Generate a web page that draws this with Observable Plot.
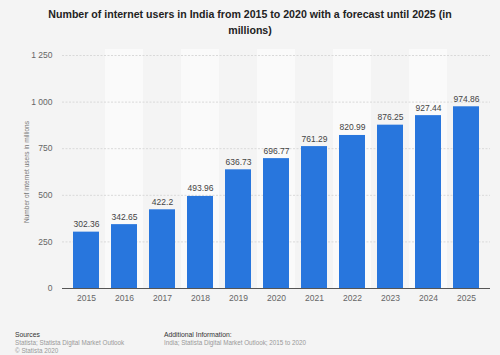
<!DOCTYPE html>
<html>
<head>
<meta charset="utf-8">
<script src="https://cdn.jsdelivr.net/npm/d3@7"></script>
<script src="https://cdn.jsdelivr.net/npm/@observablehq/plot@0.6"></script>
<style>
  html, body { margin: 0; padding: 0; background: #f4f4f4; width: 500px; height: 355px; overflow: hidden; font-family: "Liberation Sans", Arial, sans-serif; }
  #title { position: absolute; top: 6px; left: 0; width: 500px; text-align: center; font-weight: bold; font-size: 10.6px; line-height: 16px; color: #222; }
  #chart { position: absolute; top: 40px; left: 0; }
  #chart svg { color: #666; }
  #chart g[aria-label="y-axis label"] text { font-size: 6.5px; fill: #777; }
  .foot { position: absolute; top: 331px; font-size: 6.3px; line-height: 8px; color: #999; }
  .foot b { font-weight: normal; color: #333; font-size: 6.8px; }
</style>
</head>
<body>
<div id="title">Number of internet users in India from 2015 to 2020 with a forecast until 2025 (in<br>millions)</div>
<div id="chart"></div>
<div class="foot" style="left:15px"><b>Sources</b><br>Statista; Statista Digital Market Outlook<br>© Statista 2020</div>
<div class="foot" style="left:164px"><b>Additional Information:</b><br>India; Statista Digital Market Outlook; 2015 to 2020</div>
<script>
const years = ["2015","2016","2017","2018","2019","2020","2021","2022","2023","2024","2025"];
const users = [302.36, 342.65, 422.2, 493.96, 636.73, 696.77, 761.29, 820.99, 876.25, 927.44, 974.86];
const yTicks = [0, 250, 500, 750, 1000, 1250];
const yLabel = "Number of internet users in millions";

const data = years.map((y, i) => ({year: y, value: users[i]}));
const stripes = years.filter((y, i) => i % 2 === 1).map(y => ({year: y}));
const fmt = d => d3.format(",")(d).replace(/,/g, " ");

const chart = Plot.plot({
  width: 500,
  height: 280,
  marginTop: 15,
  marginBottom: 32,
  marginLeft: 62,
  marginRight: 10,
  style: {fontFamily: "'Liberation Sans', Arial, sans-serif", fontSize: "8.5px", background: "transparent"},
  x: {domain: years, padding: 0, label: null},
  y: {domain: [0, 1250], label: null},
  marks: [
    Plot.barY(stripes, {x: "year", y1: 0, y2: 1250, fill: "#fafafa", insetTop: -6}),
    Plot.ruleY(yTicks.filter(d => d > 0), {stroke: "#d9d9d9", strokeDasharray: "2,1.5"}),
    Plot.barY(data, {x: "year", y: "value", fill: "#2876dd", insetLeft: 6, insetRight: 6}),
    Plot.text(data, {x: "year", y: "value", text: d => String(d.value), lineAnchor: "bottom", dy: -5, fill: "#444", fontSize: 8.5}),
    Plot.ruleY([0], {stroke: "#555", strokeWidth: 1}),
    Plot.axisY({ticks: yTicks, tickFormat: fmt, tickSize: 0, tickPadding: 10, label: yLabel, labelAnchor: "center", labelArrow: "none", labelOffset: 38}),
    Plot.axisX({tickSize: 0, tickPadding: 6, label: null})
  ]
});
document.getElementById("chart").appendChild(chart);
</script>
</body>
</html>
